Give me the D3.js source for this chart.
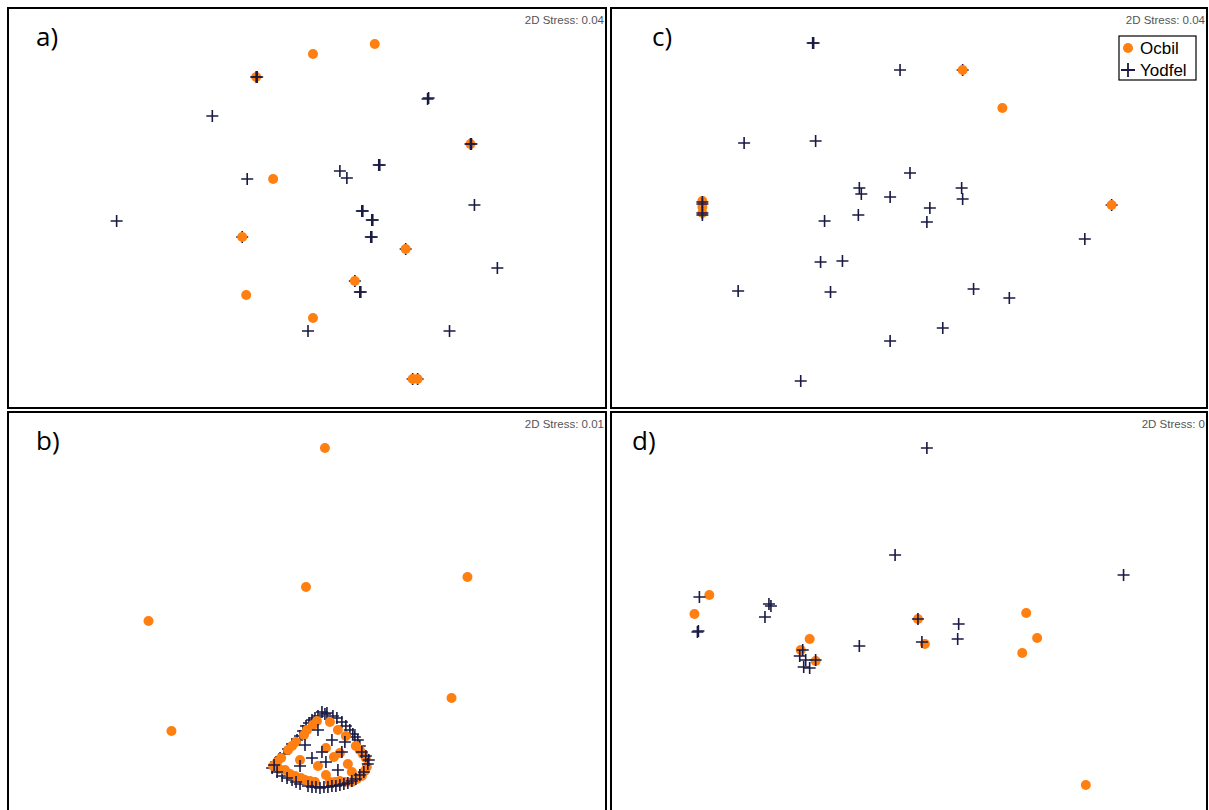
<!DOCTYPE html>
<meta charset="utf-8">
<style>
body { margin: 0; background: #fff; }
.frame { fill: none; stroke: #000; stroke-width: 2; }
.stress { fill: #555; font: 11.5px "Liberation Sans", Arial, sans-serif; text-anchor: end; }
.tag { fill: #000; font: 26px "Open Sans", sans-serif; }
.legend text { fill: #000; font: 17px "Liberation Sans", Arial, sans-serif; }
</style>
<body>
<div id="chart"></div>
<script src="https://cdn.jsdelivr.net/npm/d3@7"></script>
<script>

var width = 1209,
    height = 810;

var groups = ["Ocbil", "Yodfel"];
var groupColor = { O: "#ff7f11", Y: "#1a1a44" };

// NMDS scores, [group, MDS1, MDS2], in plotting order
var pointsA = [
  ["Y", -0.65, -0.29], ["Y", 0.99, -0.41], ["Y", 0.48, -0.73], ["Y", 1.06, -1.71], ["Y", 1.11, -1.71],
  ["O", 0.06, 1.54], ["O", 0.68, 1.64], ["O", -0.51, 1.31], ["O", 1.64, 0.64], ["O", -0.34, 0.29],
  ["O", -0.65, -0.29], ["O", 0.99, -0.41], ["O", 0.48, -0.73], ["O", -0.61, -0.87], ["O", 0.06, -1.10],
  ["O", 1.06, -1.71], ["O", 1.11, -1.71],
  ["Y", -0.51, 1.31], ["Y", -0.50, 1.31], ["Y", 1.21, 1.09], ["Y", 1.22, 1.10], ["Y", -0.95, 0.92],
  ["Y", 1.64, 0.64], ["Y", 1.65, 0.64], ["Y", 0.72, 0.43], ["Y", 0.73, 0.43], ["Y", 0.33, 0.37],
  ["Y", 0.40, 0.30], ["Y", -0.60, 0.29], ["Y", 1.68, 0.03], ["Y", 0.55, -0.03], ["Y", 0.56, -0.03],
  ["Y", 0.65, -0.12], ["Y", 0.66, -0.12], ["Y", -1.91, -0.13], ["Y", 0.64, -0.29], ["Y", 0.65, -0.29],
  ["Y", 1.91, -0.60], ["Y", 0.53, -0.84], ["Y", 0.54, -0.84], ["Y", 0.01, -1.23], ["Y", 1.43, -1.23]
];

var pointsB = [
  ["O", 0.18, 1.64], ["O", -0.01, 0.25], ["O", 1.61, 0.35], ["O", -1.59, -0.09], ["O", 1.45, -0.86],
  ["O", -1.36, -1.19],
  ["Y", 0.15, -1.00], ["Y", 0.20, -1.01], ["Y", 0.26, -1.04], ["Y", 0.11, -1.04], ["Y", 0.05, -1.08],
  ["Y", 0.35, -1.10], ["Y", 0.43, -1.18], ["Y", 0.46, -1.22], ["Y", -0.01, -1.14], ["Y", -0.07, -1.24],
  ["Y", -0.15, -1.32], ["Y", 0.51, -1.28], ["Y", 0.53, -1.34], ["Y", -0.23, -1.42], ["Y", -0.31, -1.50],
  ["Y", -0.35, -1.56], ["Y", -0.25, -1.64], ["Y", -0.15, -1.68], ["Y", -0.07, -1.72],
  ["Y", 0.18, -1.02], ["Y", 0.30, -1.06], ["Y", 0.39, -1.14], ["Y", 0.48, -1.25], ["Y", 0.08, -1.06],
  ["Y", 0.02, -1.11], ["Y", -0.04, -1.19], ["Y", -0.10, -1.28], ["Y", -0.19, -1.37], ["Y", -0.27, -1.46],
  ["O", 0.06, -1.13], ["O", -0.03, -1.23], ["O", -0.11, -1.30], ["O", -0.19, -1.38], ["O", -0.26, -1.46],
  ["O", -0.34, -1.54], ["O", -0.22, -1.58], ["O", -0.12, -1.64], ["O", -0.02, -1.68], ["O", 0.08, -1.70],
  ["O", 0.53, -1.38], ["O", 0.59, -1.46], ["O", 0.60, -1.55], ["O", 0.55, -1.64], ["O", 0.45, -1.70],
  ["O", 0.33, -1.69], ["O", 0.23, -1.70], ["O", 0.31, -1.18], ["O", 0.39, -1.24], ["O", 0.19, -1.36],
  ["O", 0.33, -1.41], ["O", 0.27, -1.45], ["O", 0.41, -1.52], ["O", 0.11, -1.54], ["O", -0.07, -1.48],
  ["O", 0.19, -1.63], ["O", 0.45, -1.60], ["O", 0.23, -1.10],
  ["O", 0.10, -1.09], ["O", 0.00, -1.18], ["O", -0.15, -1.34], ["O", -0.30, -1.50], ["O", -0.28, -1.57],
  ["O", -0.17, -1.62], ["O", -0.06, -1.66], ["O", 0.03, -1.69], ["O", 0.49, -1.34], ["O", 0.56, -1.42],
  ["O", 0.58, -1.59], ["O", 0.50, -1.67], ["O", 0.38, -1.70], ["O", 0.28, -1.70],
  ["Y", 0.01, -1.74], ["Y", 0.09, -1.75], ["Y", 0.17, -1.75], ["Y", 0.25, -1.74], ["Y", 0.33, -1.73],
  ["Y", 0.41, -1.71], ["Y", 0.49, -1.67], ["Y", 0.57, -1.60], ["Y", 0.61, -1.52], ["Y", 0.11, -1.18],
  ["Y", 0.25, -1.28], ["Y", 0.15, -1.40], ["Y", 0.35, -1.40], ["Y", 0.05, -1.46], ["Y", 0.19, -1.50],
  ["Y", -0.07, -1.54], ["Y", 0.31, -1.58], ["Y", 0.38, -1.30], ["Y", -0.02, -1.33],
  ["Y", 0.55, -1.40], ["Y", 0.59, -1.44], ["Y", 0.62, -1.48], ["Y", -0.33, -1.53], ["Y", -0.30, -1.60],
  ["Y", -0.20, -1.66], ["Y", -0.11, -1.70], ["Y", 0.05, -1.75], ["Y", 0.13, -1.76], ["Y", 0.21, -1.75],
  ["Y", 0.29, -1.74], ["Y", 0.37, -1.72], ["Y", 0.45, -1.69], ["Y", 0.53, -1.63]
];

var pointsC = [
  ["Y", 0.54, 1.38], ["Y", 2.04, 0.03],
  ["O", 0.54, 1.38], ["O", 0.94, 1.00], ["O", 2.04, 0.03], ["O", -2.08, 0.07], ["O", -2.08, 0.01],
  ["O", -2.08, -0.05],
  ["Y", -2.08, 0.06], ["Y", -2.08, 0.04], ["Y", -2.08, -0.05], ["Y", -2.08, -0.07],
  ["Y", -0.97, 1.65], ["Y", -0.96, 1.65], ["Y", -0.09, 1.38], ["Y", -1.66, 0.65], ["Y", -0.94, 0.67],
  ["Y", 0.01, 0.35], ["Y", -0.50, 0.20], ["Y", -0.48, 0.14], ["Y", -0.19, 0.11], ["Y", 0.53, 0.20],
  ["Y", 0.54, 0.09], ["Y", 0.21, 0.00], ["Y", -0.51, -0.07], ["Y", -0.85, -0.13], ["Y", 0.18, -0.14],
  ["Y", 1.77, -0.31], ["Y", -0.89, -0.54], ["Y", -0.67, -0.53], ["Y", -1.72, -0.83], ["Y", -0.79, -0.84],
  ["Y", 0.65, -0.81], ["Y", 1.01, -0.90], ["Y", 0.34, -1.20], ["Y", -0.19, -1.33], ["Y", -1.09, -1.73]
];

var pointsD = [
  ["Y", 0.18, 1.64], ["Y", -0.14, 0.57], ["Y", 2.16, 0.37],
  ["O", -2.01, 0.17], ["O", -2.16, -0.02], ["O", 1.18, -0.01], ["O", 0.09, -0.07], ["O", 1.29, -0.26],
  ["O", 0.16, -0.32], ["O", -1.00, -0.27], ["O", -1.09, -0.38], ["O", -0.94, -0.49], ["O", 1.14, -0.41],
  ["O", 1.78, -1.73],
  ["Y", -2.11, 0.15], ["Y", -1.41, 0.08], ["Y", -1.39, 0.06], ["Y", -1.45, -0.05], ["Y", -2.13, -0.20],
  ["Y", -2.12, -0.19], ["Y", 0.09, -0.07], ["Y", 0.50, -0.12], ["Y", 0.49, -0.27], ["Y", 0.13, -0.30],
  ["Y", -1.07, -0.38], ["Y", -1.10, -0.44], ["Y", -1.04, -0.48], ["Y", -1.06, -0.55], ["Y", -1.00, -0.56],
  ["Y", -0.94, -0.48], ["Y", -0.50, -0.34]
];

var panels = [
  { tag: "a)", stress: "2D Stress: 0.04", data: pointsA, x: 8, y: 8, w: 598, h: 400, tagX: 36 },
  { tag: "c)", stress: "2D Stress: 0.04", data: pointsC, x: 611, y: 8, w: 596, h: 400, tagX: 652, legend: true },
  { tag: "b)", stress: "2D Stress: 0.01", data: pointsB, x: 8, y: 412, w: 598, h: 400, tagX: 36 },
  { tag: "d)", stress: "2D Stress: 0", data: pointsD, x: 611, y: 412, w: 596, h: 400, tagX: 632 }
];

var svg = d3.select("#chart").append("svg")
    .attr("width", width)
    .attr("height", height);

function crossPath(s) {
  return "M" + (-s) + ",0H" + s + "M0," + (-s) + "V" + s;
}

panels.forEach(function(p) {
  var g = svg.append("g");

  var x = d3.scaleLinear().domain([-3, 3]).range([p.x, p.x + p.w]);
  var y = d3.scaleLinear().domain([-2, 2]).range([p.y + p.h, p.y]);

  g.append("rect")
    .attr("class", "frame")
    .attr("x", p.x)
    .attr("y", p.y)
    .attr("width", p.w)
    .attr("height", p.h);

  g.append("text")
    .attr("class", "stress")
    .attr("x", p.x + p.w - 2)
    .attr("y", p.y + 16)
    .text(p.stress);

  g.append("text")
    .attr("class", "tag")
    .attr("x", p.tagX)
    .attr("y", p.y + 38)
    .text(p.tag);

  g.selectAll(".pt")
    .data(p.data)
    .enter().each(function(d) {
      var sel = d3.select(this);
      if (d[0] == "O") {
        sel.append("circle")
          .attr("cx", x(d[1]))
          .attr("cy", y(d[2]))
          .attr("r", 5)
          .attr("fill", groupColor.O);
      } else {
        sel.append("path")
          .attr("d", crossPath(6))
          .attr("transform", "translate(" + x(d[1]) + "," + y(d[2]) + ")")
          .attr("fill", "none")
          .attr("stroke", groupColor.Y)
          .attr("stroke-width", 1.6);
      }
    });

  if (p.legend) {
    var lg = g.append("g").attr("class", "legend");
    lg.append("rect")
      .attr("x", 1119).attr("y", 36)
      .attr("width", 77).attr("height", 44)
      .attr("fill", "#fff")
      .attr("stroke", "#000")
      .attr("stroke-width", 1.2);
    groups.forEach(function(name, i) {
      var cy = 48 + i * 22;
      if (i == 0) {
        lg.append("circle").attr("cx", 1128).attr("cy", cy).attr("r", 5).attr("fill", groupColor.O);
      } else {
        lg.append("path")
          .attr("d", crossPath(7))
          .attr("transform", "translate(1128," + cy + ")")
          .attr("fill", "none")
          .attr("stroke", groupColor.Y)
          .attr("stroke-width", 1.8);
      }
      lg.append("text")
        .attr("x", 1140)
        .attr("y", cy + 6)
        .text(name);
    });
  }
});
</script>
</body>
